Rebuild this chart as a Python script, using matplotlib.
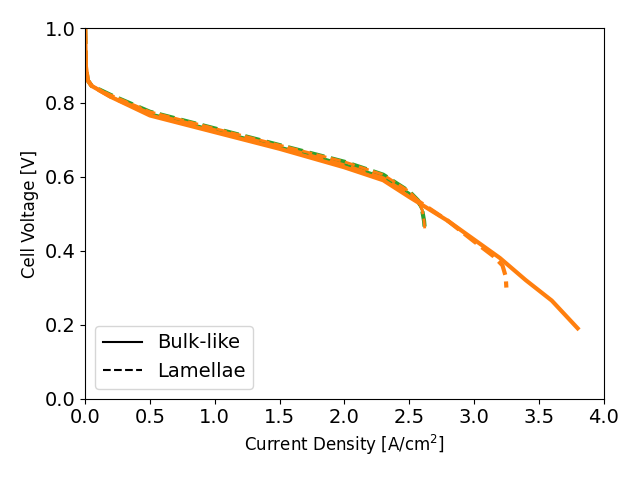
import numpy as np
import matplotlib.pyplot as plt
from matplotlib.lines import Line2D

# orange solid (bulk-like)
bulk_j = [0.0, 0.005, 0.02, 0.05, 0.2, 0.5, 1.0, 1.5, 2.0, 2.3, 2.5, 2.8, 3.0, 3.2, 3.4, 3.6, 3.8]
bulk_v = [1.0, 0.9, 0.86, 0.845, 0.815, 0.765, 0.72, 0.675, 0.625, 0.59, 0.545, 0.48, 0.43, 0.38, 0.32, 0.265, 0.19]

# lamellae, short (green + orange)
lam_j = [0.0, 0.005, 0.02, 0.05, 0.2, 0.5, 1.0, 1.5, 2.0, 2.3, 2.5, 2.57, 2.6, 2.615, 2.62]
lam_v = [1.0, 0.9, 0.86, 0.845, 0.82, 0.775, 0.73, 0.685, 0.64, 0.605, 0.56, 0.535, 0.51, 0.48, 0.46]

# green solid, short
gs_j = [0.0, 0.005, 0.02, 0.05, 0.2, 0.5, 1.0, 1.5, 2.0, 2.3, 2.5, 2.57, 2.6]
gs_v = [1.0, 0.9, 0.86, 0.845, 0.815, 0.77, 0.725, 0.68, 0.633, 0.598, 0.555, 0.53, 0.51]

# orange dashed, long
ld_j = [0.0, 0.005, 0.02, 0.05, 0.2, 0.5, 1.0, 1.5, 2.0, 2.3, 2.5, 2.8, 3.0, 3.15, 3.22, 3.245, 3.25]
ld_v = [1.0, 0.9, 0.86, 0.845, 0.815, 0.77, 0.725, 0.68, 0.63, 0.595, 0.55, 0.48, 0.425, 0.385, 0.36, 0.33, 0.30]

plt.rcParams.update({'font.size': 14})
fig, ax = plt.subplots(figsize=(6.4, 4.78), dpi=100)
ax.plot(gs_j, gs_v, color='tab:green', lw=2)
ax.plot(lam_j, lam_v, color='tab:green', lw=3, ls='--')
ax.plot(lam_j, lam_v, color='tab:orange', lw=2, ls='--')
ax.plot(ld_j, ld_v, color='tab:orange', lw=3, ls='--')
ax.plot(bulk_j, bulk_v, color='tab:orange', lw=3)

ax.set_xlim(0, 4.0)
ax.set_ylim(0, 1.0)
ax.set_xlabel('Current Density [A/cm$^2$]', fontsize=12)
ax.set_ylabel('Cell Voltage [V]', fontsize=12)
handles = [Line2D([], [], color='black', ls='-'), Line2D([], [], color='black', ls='--')]
ax.legend(handles, ['Bulk-like', 'Lamellae'], loc='lower left')
fig.tight_layout()
fig.savefig('out.png')
